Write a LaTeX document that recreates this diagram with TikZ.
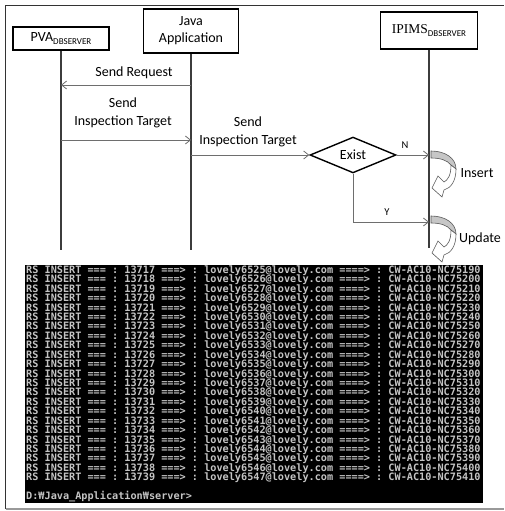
\documentclass[tikz,border=0pt]{standalone}
\usepackage{fontspec}
\setmainfont{Carlito}
\newfontfamily\serifname{Liberation Serif}
\newfontfamily\consolefont{DejaVu Sans Mono}
\usetikzlibrary{shapes.geometric,arrows.meta}

\definecolor{lifegray}{HTML}{3C3C3C}
\definecolor{msggray}{HTML}{6E6E6E}
\definecolor{consoletext}{HTML}{C4C4C4}

\tikzset{
  actor/.style={draw=black, line width=1.4pt, fill=white, inner sep=0pt,
    font=\fontsize{14}{16}\selectfont},
  lifeline/.style={draw=lifegray, line width=1.3pt},
  msg/.style={draw=msggray, line width=0.8pt,
    -{Straight Barb[length=5pt,width=8pt,line width=0.8pt]}},
  msgtext/.style={font=\fontsize{14}{18}\selectfont, align=center, inner sep=0pt},
  flag/.style={font=\fontsize{10.5}{12}\selectfont, inner sep=0pt},
  rotface/.style={draw=gray!70!black, line width=0.6pt, fill=gray!45},
  rotunder/.style={draw=gray!70!black, line width=0.6pt, fill=white},
  pics/selfloop/.style={code={
    \path[rotface] (1,0) .. controls (15,0) and (26,7) .. (26,18)
      -- (21,14) .. controls (17,9) and (10,7) .. (1,7) -- cycle;
    \path[rotunder] (26,18) .. controls (26,30) and (21,37) .. (14,39)
      -- (12,46) -- (2,37) -- (8,25) -- (14,31)
      .. controls (18,29) and (21,24) .. (21,14) -- cycle;
  }}
}

\newcommand{\subtag}[1]{\raisebox{-0.35ex}{\fontsize{9}{9}\selectfont #1}}
% console lines: fixed pitch (rigid spaces), tight baselines
\newcommand{\consolesetup}{\consolefont\bfseries\fontsize{10.2}{9.42}\selectfont
  \spaceskip=\fontcharwd\font`x\relax\xspaceskip=\spaceskip
  \lineskiplimit=-20pt\lineskip=0pt}

\begin{document}
\begin{tikzpicture}[x=1pt, y=-1pt]
\useasboundingbox (0,0) rectangle (504,511);
\fill[white] (0,0) rectangle (504,511);

% outer frame
\draw[line width=1.3pt, draw=black!80] (5.5,509) -- (5.5,5.5) -- (503.5,5.5);
\draw[line width=1.5pt, draw=gray!80] (5.5,509) -- (503.5,509);

% participants
\node[actor, minimum width=96pt, minimum height=23pt] (pva) at (61,38.5)
  {PVA\subtag{DBSERVER}};
\node[actor, minimum width=95pt, minimum height=44pt, align=center] (java) at (191,31)
  {Java\\[1pt]Application};
\node[actor, minimum width=97pt, minimum height=37pt] (ipims) at (429,30.5)
  {{\serifname\fontsize{13.5}{16}\selectfont IPIMS}\subtag{DBSERVER}};

% lifelines
\coordinate (pvaend) at (61,250);
\coordinate (javaend) at (191,250);
\coordinate (ipimsend) at (429,248);
\draw[lifeline] (pva.south) -- (pvaend);
\draw[lifeline] (java.south) -- (javaend);
\draw[lifeline] (ipims.south) -- (ipimsend);

% messages
\node[msgtext] (lreq) at (134,73) {Send Request};
\draw[msg] (java.south |- 0,85) -- (pva.south |- 0,85);

\node[msgtext] (ltarget1) at (123,113) {Send\\Inspection Target};
\draw[msg] (pva.south |- 0,140) -- (java.south |- 0,140);

\node[msgtext] (ltarget2) at (248,131.5) {Send\\Inspection Target};

% decision
\node[draw=black, line width=1.4pt, shape=diamond, inner sep=0pt,
  minimum width=86pt, minimum height=34pt, font=\fontsize{14}{16}\selectfont]
  (exist) at (353,155) {Exist};
\draw[msg] (java.south |- exist.west) -- (exist.west);

\coordinate (yturn) at (353,222);
\draw[msg] (exist.east) -- (ipims.south |- exist.east);
\node[flag] (lno) at (405,145) {N};
\draw[msg] (exist.south) -- (yturn) -- (ipims.south |- yturn);
\node[flag] (lyes) at (387,212) {Y};

% operations on the IPIMS side
\pic at (430,151) {selfloop};
\node[msgtext] (linsert) at (477,173) {Insert};
\pic at (430,216) {selfloop};
\node[msgtext] (lupdate) at (480,238.5) {Update};

% console output
\node[fill=black, minimum width=458pt, minimum height=238pt, inner sep=0pt,
  anchor=north west] (console) at (25,265) {};
\node[anchor=north west, inner sep=0pt, align=left, text=consoletext,
  font=\consolesetup] (log) at (26,265.5)
{RS INSERT === : 13717 ===> : lovely6525@lovely.com ====> : CW-AC10-NC75190\\
RS INSERT === : 13718 ===> : lovely6526@lovely.com ====> : CW-AC10-NC75200\\
RS INSERT === : 13719 ===> : lovely6527@lovely.com ====> : CW-AC10-NC75210\\
RS INSERT === : 13720 ===> : lovely6528@lovely.com ====> : CW-AC10-NC75220\\
RS INSERT === : 13721 ===> : lovely6529@lovely.com ====> : CW-AC10-NC75230\\
RS INSERT === : 13722 ===> : lovely6530@lovely.com ====> : CW-AC10-NC75240\\
RS INSERT === : 13723 ===> : lovely6531@lovely.com ====> : CW-AC10-NC75250\\
RS INSERT === : 13724 ===> : lovely6532@lovely.com ====> : CW-AC10-NC75260\\
RS INSERT === : 13725 ===> : lovely6533@lovely.com ====> : CW-AC10-NC75270\\
RS INSERT === : 13726 ===> : lovely6534@lovely.com ====> : CW-AC10-NC75280\\
RS INSERT === : 13727 ===> : lovely6535@lovely.com ====> : CW-AC10-NC75290\\
RS INSERT === : 13728 ===> : lovely6536@lovely.com ====> : CW-AC10-NC75300\\
RS INSERT === : 13729 ===> : lovely6537@lovely.com ====> : CW-AC10-NC75310\\
RS INSERT === : 13730 ===> : lovely6538@lovely.com ====> : CW-AC10-NC75320\\
RS INSERT === : 13731 ===> : lovely6539@lovely.com ====> : CW-AC10-NC75330\\
RS INSERT === : 13732 ===> : lovely6540@lovely.com ====> : CW-AC10-NC75340\\
RS INSERT === : 13733 ===> : lovely6541@lovely.com ====> : CW-AC10-NC75350\\
RS INSERT === : 13734 ===> : lovely6542@lovely.com ====> : CW-AC10-NC75360\\
RS INSERT === : 13735 ===> : lovely6543@lovely.com ====> : CW-AC10-NC75370\\
RS INSERT === : 13736 ===> : lovely6544@lovely.com ====> : CW-AC10-NC75380\\
RS INSERT === : 13737 ===> : lovely6545@lovely.com ====> : CW-AC10-NC75390\\
RS INSERT === : 13738 ===> : lovely6546@lovely.com ====> : CW-AC10-NC75400\\
RS INSERT === : 13739 ===> : lovely6547@lovely.com ====> : CW-AC10-NC75410\\
\mbox{}\\
D:₩Java\_Application₩server>};
\end{tikzpicture}
\end{document}
